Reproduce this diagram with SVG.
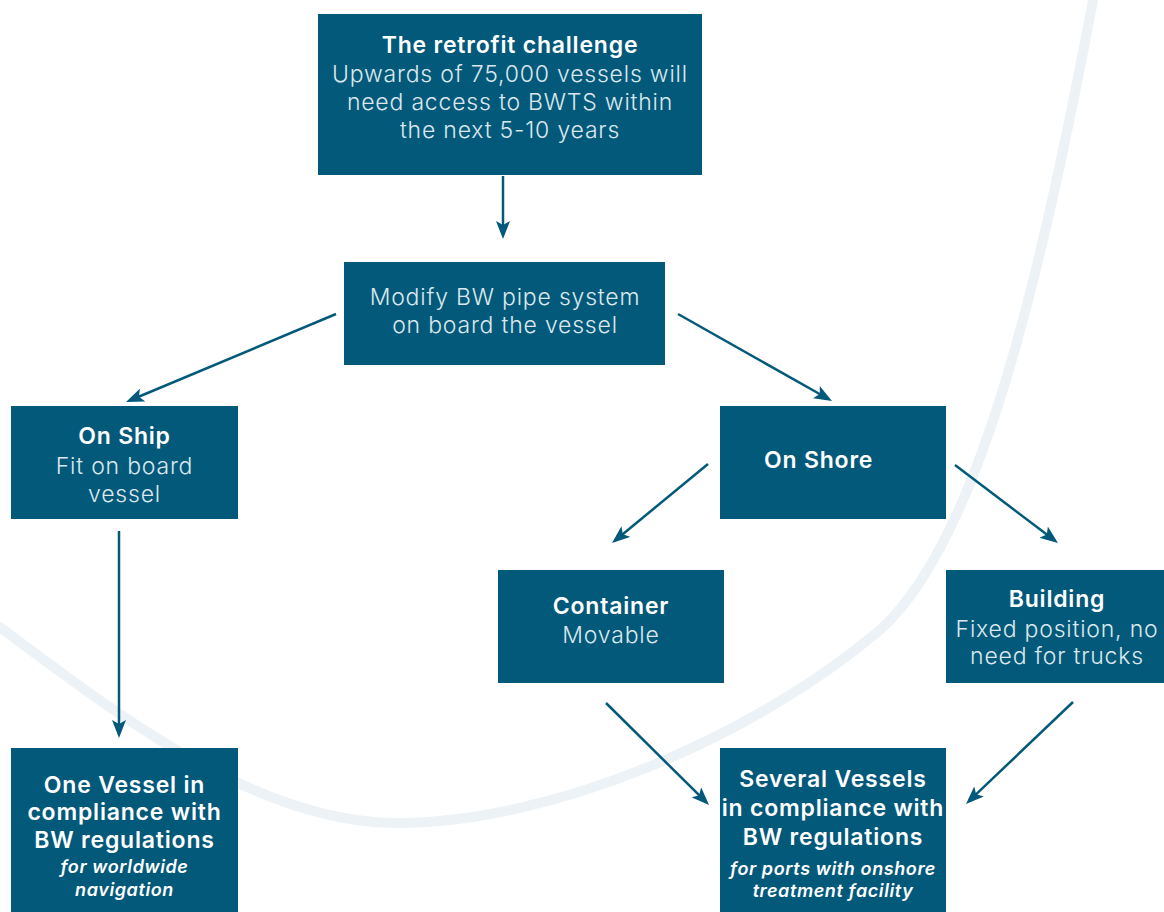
<svg xmlns="http://www.w3.org/2000/svg" width="1164" height="912" viewBox="0 0 1164 912">
<style>
.box{fill:#03597A}
.t{font-family:Inter,"Open Sans","Liberation Sans",sans-serif;text-anchor:middle;font-size:23px;letter-spacing:0.8px}
.b{font-weight:600;fill:#FFFFFF}
.l{font-weight:300;fill:#DCE8EE}
.i{font-weight:600;font-style:italic;fill:#FFFFFF;font-size:18px;letter-spacing:0.6px}
.c{fill:none;stroke:#03597A;stroke-width:2.5}
</style>
<defs>
<marker id="ah" viewBox="0 0 18 14" refX="14" refY="7" markerWidth="18" markerHeight="14" orient="auto" markerUnits="userSpaceOnUse">
<path d="M0,0 L18,7 L0,14 L4,7 z" fill="#03597A"/>
</marker>
</defs>
<rect width="1164" height="912" fill="#FFFFFF"/>
<path id="bgcurve" d="M-10,620 C100,700 250,825 400,823 C550,822 750,740 880,630 C980,540 1040,280 1095,-10" fill="none" stroke="#ECF2F5" stroke-width="10"/>
<g id="connectors">
<line class="c" x1="503" y1="176" x2="503" y2="235" marker-end="url(#ah)"/>
<line class="c" x1="336" y1="314" x2="129.7" y2="400.5" marker-end="url(#ah)"/>
<line class="c" x1="678" y1="314" x2="828.5" y2="399" marker-end="url(#ah)"/>
<line class="c" x1="119" y1="531" x2="119" y2="734" marker-end="url(#ah)"/>
<line class="c" x1="708" y1="464" x2="615.1" y2="540.5" marker-end="url(#ah)"/>
<line class="c" x1="955" y1="465" x2="1054.8" y2="540.6" marker-end="url(#ah)"/>
<line class="c" x1="606" y1="703" x2="706.2" y2="802.2" marker-end="url(#ah)"/>
<line class="c" x1="1073" y1="702" x2="968.9" y2="801.2" marker-end="url(#ah)"/>
</g>
<g id="retrofit">
<rect class="box" x="318" y="14" width="384" height="161"/>
<text class="t b" x="510" y="53">The retrofit challenge</text>
<text class="t l" x="510" y="82">Upwards of 75,000 vessels will</text>
<text class="t l" x="510" y="110">need access to BWTS within</text>
<text class="t l" x="510" y="138">the next 5-10 years</text>
</g>
<g id="modify">
<rect class="box" x="344" y="262" width="321" height="103"/>
<text class="t l" x="505" y="305">Modify BW pipe system</text>
<text class="t l" x="505" y="333">on board the vessel</text>
</g>
<g id="onship">
<rect class="box" x="11" y="406" width="227" height="113"/>
<text class="t b" x="124.5" y="444">On Ship</text>
<text class="t l" x="124.5" y="474">Fit on board</text>
<text class="t l" x="124.5" y="502">vessel</text>
</g>
<g id="onshore">
<rect class="box" x="720" y="406" width="226" height="113"/>
<text class="t b" x="764" y="468" style="text-anchor:start">On Shore</text>
</g>
<g id="container">
<rect class="box" x="498" y="570" width="226" height="113"/>
<text class="t b" x="611" y="614">Container</text>
<text class="t l" x="611" y="643">Movable</text>
</g>
<g id="building">
<rect class="box" x="946" y="570" width="218" height="113"/>
<text class="t b" x="1057" y="607">Building</text>
<text class="t l" x="1057" y="637">Fixed position, no</text>
<text class="t l" x="1057" y="664">need for trucks</text>
</g>
<g id="onevessel">
<rect class="box" x="11" y="748" width="227" height="164"/>
<text class="t b" x="124.5" y="793">One Vessel in</text>
<text class="t b" x="124.5" y="820">compliance with</text>
<text class="t b" x="124.5" y="848">BW regulations</text>
<text class="t i" x="124.5" y="873">for worldwide</text>
<text class="t i" x="124.5" y="896">navigation</text>
</g>
<g id="severalvessels">
<rect class="box" x="720" y="748" width="226" height="164"/>
<text class="t b" x="833" y="787">Several Vessels</text>
<text class="t b" x="833" y="816">in compliance with</text>
<text class="t b" x="833" y="845">BW regulations</text>
<text class="t i" x="833" y="875">for ports with onshore</text>
<text class="t i" x="833" y="897">treatment facility</text>
</g>
</svg>
